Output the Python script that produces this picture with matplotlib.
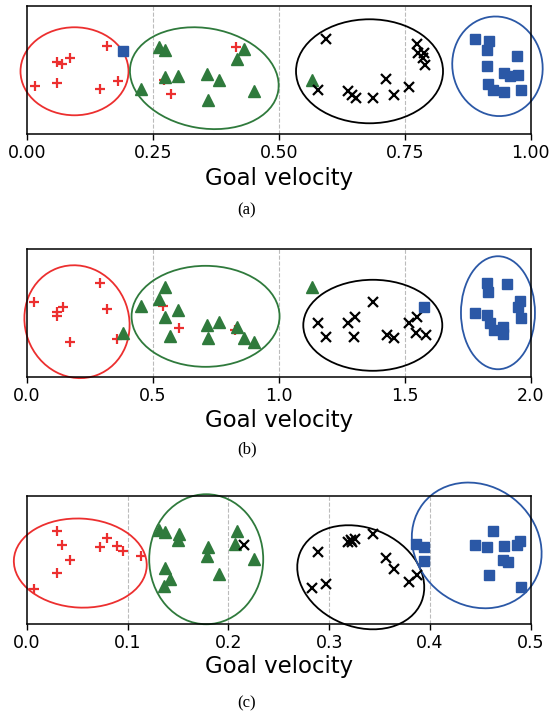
import matplotlib
matplotlib.use("Agg")
import matplotlib.pyplot as plt
from matplotlib.patches import Ellipse
from matplotlib.transforms import Affine2D

RED = "#ec2f2f"
GREEN = "#2f7a3c"
BLUE = "#2b58a6"
BLACK = "#000000"

# ---- panel (a): goal velocity in [0, 1]
a_plus_x = [0.016, 0.059, 0.069, 0.085, 0.060, 0.158, 0.145, 0.181, 0.415, 0.271, 0.285]
a_plus_y = [0.375, 0.560, 0.547, 0.590, 0.400, 0.690, 0.350, 0.416, 0.677, 0.420, 0.313]
a_tri_x = [0.226, 0.263, 0.274, 0.274, 0.300, 0.358, 0.381, 0.360, 0.416, 0.431, 0.451, 0.565]
a_tri_y = [0.349, 0.677, 0.656, 0.443, 0.453, 0.469, 0.422, 0.266, 0.583, 0.664, 0.338, 0.422]
a_x_x = [0.594, 0.578, 0.638, 0.645, 0.653, 0.686, 0.712, 0.729, 0.759, 0.774, 0.777, 0.788, 0.786, 0.790]
a_x_y = [0.740, 0.344, 0.338, 0.305, 0.279, 0.279, 0.427, 0.305, 0.365, 0.703, 0.630, 0.630, 0.591, 0.539]
a_sq_x = [0.190, 0.889, 0.918, 0.914, 0.972, 0.913, 0.946, 0.959, 0.975, 0.916, 0.926, 0.946, 0.980]
a_sq_y = [0.648, 0.740, 0.729, 0.656, 0.609, 0.534, 0.474, 0.453, 0.461, 0.390, 0.344, 0.330, 0.344]
# cluster ellipses: centre x, centre y, width px, height px, angle deg
a_ell = [(0.0943, 0.490, 108, 88, 0, RED),
         (0.352, 0.436, 150, 100, -10, GREEN),
         (0.680, 0.490, 147, 104, 0, BLACK),
         (0.934, 0.529, 90, 100, 12, BLUE)]
a_ticks = [0.0, 0.25, 0.5, 0.75, 1.0]
a_labels = ["0.00", "0.25", "0.50", "0.75", "1.00"]

# ---- panel (b): goal velocity in [0, 2]
b_plus_x = [0.029, 0.120, 0.144, 0.118, 0.290, 0.316, 0.171, 0.359, 0.541, 0.604, 0.826]
b_plus_y = [0.588, 0.510, 0.544, 0.479, 0.737, 0.529, 0.276, 0.297, 0.555, 0.385, 0.367]
b_tri_x = [0.382, 0.451, 0.548, 0.525, 0.601, 0.548, 0.568, 0.716, 0.764, 0.720, 0.833, 0.862, 0.901, 1.133]
b_tri_y = [0.341, 0.555, 0.706, 0.607, 0.523, 0.466, 0.323, 0.406, 0.432, 0.302, 0.388, 0.302, 0.276, 0.701]
b_x_x = [1.157, 1.187, 1.276, 1.302, 1.298, 1.373, 1.428, 1.457, 1.518, 1.547, 1.545, 1.583]
b_x_y = [0.419, 0.315, 0.419, 0.466, 0.315, 0.588, 0.328, 0.302, 0.419, 0.466, 0.346, 0.328]
b_sq_x = [1.578, 1.825, 1.832, 1.907, 1.957, 1.951, 1.960, 1.779, 1.828, 1.838, 1.854, 1.891, 1.891]
b_sq_y = [0.544, 0.737, 0.667, 0.727, 0.596, 0.544, 0.458, 0.502, 0.484, 0.419, 0.367, 0.393, 0.336]
b_ell = [(0.1985, 0.432, 104, 114, 20, RED),
         (0.709, 0.474, 148, 101, 0, GREEN),
         (1.373, 0.404, 139, 91, 0, BLACK),
         (1.870, 0.502, 74, 113, 0, BLUE)]
b_ticks = [0.0, 0.5, 1.0, 1.5, 2.0]
b_labels = ["0.0", "0.5", "1.0", "1.5", "2.0"]

# ---- panel (c): goal velocity in [0, 0.5]
c_plus_x = [0.0070, 0.0295, 0.0344, 0.0427, 0.0295, 0.0725, 0.0791, 0.0896, 0.0956, 0.1129]
c_plus_y = [0.270, 0.729, 0.619, 0.501, 0.396, 0.603, 0.669, 0.606, 0.572, 0.528]
c_tri_x = [0.1313, 0.137, 0.151, 0.150, 0.137, 0.142, 0.136, 0.180, 0.179, 0.191, 0.208, 0.2065, 0.2256]
c_tri_y = [0.735, 0.721, 0.703, 0.658, 0.441, 0.349, 0.296, 0.598, 0.528, 0.394, 0.729, 0.624, 0.506]
c_x_x = [0.2154, 0.2892, 0.2832, 0.2968, 0.3189, 0.3213, 0.3256, 0.3225, 0.3432, 0.3564, 0.3646, 0.3795, 0.3868]
c_x_y = [0.617, 0.564, 0.278, 0.309, 0.638, 0.658, 0.664, 0.640, 0.703, 0.512, 0.428, 0.328, 0.380]
c_sq_x = [0.3862, 0.3944, 0.3941, 0.4629, 0.4447, 0.4569, 0.4738, 0.4861, 0.4894, 0.4728, 0.4778, 0.4589, 0.4900]
c_sq_y = [0.624, 0.598, 0.493, 0.729, 0.616, 0.598, 0.611, 0.616, 0.650, 0.501, 0.485, 0.380, 0.291]
c_ell = [(0.0529, 0.476, 133, 89, -3, RED),
         (0.1779, 0.506, 114, 130, 0, GREEN),
         (0.3313, 0.365, 131, 99, -22, BLACK),
         (0.4464, 0.614, 136, 119, -38, BLUE)]
c_ticks = [0.0, 0.1, 0.2, 0.3, 0.4, 0.5]
c_labels = ["0.0", "0.1", "0.2", "0.3", "0.4", "0.5"]

panels = [
    (a_plus_x, a_plus_y, a_tri_x, a_tri_y, a_x_x, a_x_y, a_sq_x, a_sq_y, a_ell, a_ticks, a_labels, "(a)"),
    (b_plus_x, b_plus_y, b_tri_x, b_tri_y, b_x_x, b_x_y, b_sq_x, b_sq_y, b_ell, b_ticks, b_labels, "(b)"),
    (c_plus_x, c_plus_y, c_tri_x, c_tri_y, c_x_x, c_x_y, c_sq_x, c_sq_y, c_ell, c_ticks, c_labels, "(c)"),
]

W, H = 553, 712
fig = plt.figure(figsize=(W / 100, H / 100), dpi=100)

ax_left, ax_w = 27, 503.7
ax_h = 128
bottoms = [134, 377, 624]
captions_y = [210, 449, 703]
xlabels_y = [178, 420, 666]

for (px, py, tx, ty, xx, xy, sx, sy, ells, ticks, labels, cap), bot, cy, ly in zip(
        panels, bottoms, captions_y, xlabels_y):
    ax = fig.add_axes([ax_left / W, 1 - bot / H, ax_w / W, ax_h / H])
    xmax = ticks[-1]
    ax.set_xlim(0, xmax)
    ax.set_ylim(0, 1)
    for t in ticks[1:-1]:
        ax.axvline(t, color="#bbbbbb", ls="--", lw=0.8, zorder=0)

    ax.plot(px, py, ls="none", marker="+", ms=7.5, mew=1.6, color=RED)
    ax.plot(tx, ty, ls="none", marker="^", ms=8.5, color=GREEN)
    ax.plot(xx, xy, ls="none", marker="x", ms=7, mew=1.6, color=BLACK)
    ax.plot(sx, sy, ls="none", marker="s", ms=7.5, color=BLUE)

    # ellipse sizes are in pixels; map them into data units
    for ex, ey, ew, eh, ang, col in ells:
        tr = Affine2D().scale(xmax / ax_w, 1.0 / ax_h).translate(ex, ey) + ax.transData
        e = Ellipse((0, 0), ew, eh, angle=ang, fill=False, ec=col, lw=1.3,
                    transform=tr, clip_on=False)
        ax.add_patch(e)

    ax.set_xticks(ticks)
    ax.set_xticklabels(labels, fontsize=12.5)
    ax.set_yticks([])
    ax.tick_params(axis="x", length=4, width=1)
    for s in ax.spines.values():
        s.set_linewidth(1.1)

    fig.text((ax_left + ax_w / 2) / W, 1 - ly / H, "Goal velocity", fontsize=16.5,
             ha="center", va="center")
    fig.text(247 / W, 1 - cy / H, cap, fontsize=12, family="Liberation Serif",
             ha="center", va="center")

fig.savefig("out.png", dpi=100)
